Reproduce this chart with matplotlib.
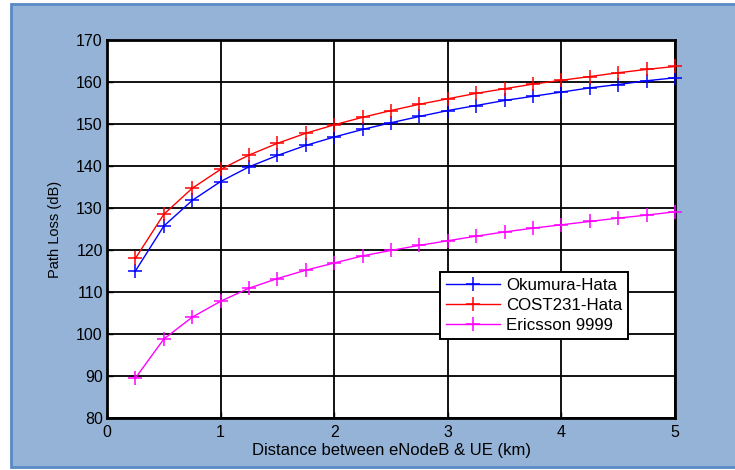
import matplotlib
matplotlib.use("Agg")
import matplotlib.pyplot as plt
from matplotlib.patches import Rectangle

distance_km = [0.25, 0.5, 0.75, 1.0, 1.25, 1.5, 1.75, 2.0, 2.25, 2.5,
               2.75, 3.0, 3.25, 3.5, 3.75, 4.0, 4.25, 4.5, 4.75, 5.0]
okumura_hata = [115.0, 125.7, 131.8, 136.3, 139.8, 142.5, 144.9, 146.9, 148.7, 150.3,
                151.8, 153.2, 154.4, 155.6, 156.6, 157.6, 158.6, 159.4, 160.3, 161.0]
cost231_hata = [118.0, 128.5, 134.7, 139.2, 142.6, 145.4, 147.8, 149.8, 151.6, 153.2,
                154.7, 156.0, 157.3, 158.4, 159.5, 160.4, 161.3, 162.2, 163.0, 163.7]
ericsson_9999 = [89.5, 98.8, 104.0, 107.8, 110.9, 113.2, 115.2, 116.9, 118.6, 119.9,
                 121.1, 122.2, 123.3, 124.3, 125.2, 126.0, 126.8, 127.6, 128.3, 129.1]
series_labels = ["Okumura-Hata", "COST231-Hata", "Ericsson 9999"]
x_ticks = [0, 1, 2, 3, 4, 5]
y_ticks = [80, 90, 100, 110, 120, 130, 140, 150, 160, 170]

plt.rcParams['font.family'] = ['Liberation Sans', 'DejaVu Sans']

W, H = 735, 470
fig = plt.figure(figsize=(W / 100, H / 100), dpi=100)
fig.patch.set_facecolor('white')

# blue panel with darker border
panel = Rectangle((10.5 / W, 1 - 466.5 / H), (W + 5 - 10.5) / W, (466.5 - 3.5) / H,
                  transform=fig.transFigure, facecolor='#95B3D7', edgecolor='#5A8AC6',
                  linewidth=2, zorder=-10)
fig.patches.append(panel)

left, right, top, bottom = 107, 675, 40, 418
ax = fig.add_axes([left / W, 1 - bottom / H, (right - left) / W, (bottom - top) / H])
ax.set_zorder(5)
ax.set_facecolor('white')

colors = ['#0000FF', '#FF0000', '#FF00FF']
for ys, c, lab in zip([okumura_hata, cost231_hata, ericsson_9999], colors, series_labels):
    ax.plot(distance_km, ys, color=c, marker='+', markersize=10, markeredgewidth=1.1,
            linewidth=1.0, label=lab, zorder=3, clip_on=False)

ax.set_xlim(0, 5)
ax.set_ylim(80, 170)
ax.set_xticks(x_ticks)
ax.set_yticks(y_ticks)
ax.grid(True, color='black', linewidth=1.3, linestyle='-')
ax.set_axisbelow(True)
for s in ax.spines.values():
    s.set_linewidth(2)
    s.set_color('black')
ax.tick_params(direction='in', length=4, width=1, labelsize=11.5, colors='black',
               top=False, right=False)
ax.tick_params(axis='x', pad=5)
ax.tick_params(axis='y', pad=3)

ax.set_xlabel('Distance between eNodeB & UE (km)', fontsize=12, labelpad=2)
ax.set_ylabel('Path Loss (dB)', fontsize=10.5, labelpad=10)

leg = ax.legend(loc='upper left', bbox_to_anchor=((440 - left) / (right - left), (bottom - 272) / (bottom - top)),
                fontsize=12.2, frameon=True, fancybox=False, edgecolor='black', framealpha=1,
                handlelength=3.2, borderpad=0.35, labelspacing=0.3, handletextpad=0.35,
                borderaxespad=0)
leg.get_frame().set_linewidth(1.4)

fig.savefig('out.png', dpi=100, facecolor=fig.get_facecolor())
